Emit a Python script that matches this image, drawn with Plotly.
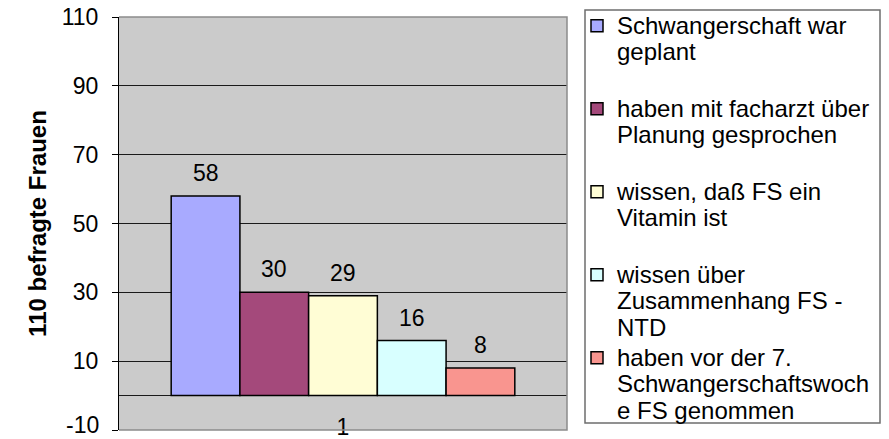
import plotly.graph_objects as go

categories = ["1"]
series_names = [
    "Schwangerschaft war<br>geplant<br> ",
    "haben mit facharzt über<br>Planung gesprochen<br> ",
    "wissen, daß FS ein<br>Vitamin ist<br> ",
    "wissen über<br>Zusammenhang FS -<br>NTD",
    "haben vor der 7.<br>Schwangerschaftswoch<br>e FS genommen",
]
series_values = [58, 30, 29, 16, 8]
series_colors = ["#A8AAFF", "#A4497B", "#FFFDD5", "#D8FFFF", "#F9958F"]
y_ticks = [-10, 10, 30, 50, 70, 90, 110]
y_title = "110 befragte Frauen"

FONT = "Liberation Sans, Arial, sans-serif"
BARGAP = 0.233

fig = go.Figure()
for name, val, col in zip(series_names, series_values, series_colors):
    fig.add_trace(go.Bar(
        x=categories, y=[val], name=f"<span style='font-size:24px'>{name}</span>",
        marker=dict(color=col, line=dict(color="black", width=1.5)),
        hoverinfo="y",
    ))

# data labels above bars (positions derived from group layout)
n = len(series_values)
w = 1 - BARGAP
for i, val in enumerate(series_values):
    fig.add_annotation(
        x=-w / 2 + (i + 0.5) * w / n, y=val, xref="x", yref="y",
        text=str(val), showarrow=False, yshift=23, yanchor="middle",
        font=dict(family=FONT, size=23, color="black"),
    )

# lowest tick label nudged up so it stays inside the picture (as in the reference)
fig.add_annotation(
    x=0, xref="paper", y=y_ticks[0], yref="y", text=str(y_ticks[0]),
    showarrow=False, xanchor="right", yanchor="middle", xshift=-18, yshift=5,
    font=dict(family=FONT, size=23, color="black"),
)

# plot-area border (top/right/bottom)
fig.add_shape(type="path", xref="paper", yref="paper",
              path="M 0,1 L 1,1 L 1,0 L 0,0", line=dict(color="#8C8C8C", width=1.5),
              layer="above")

PW, PH, L, T = 448, 413, 119, 17

fig.update_layout(
    width=889, height=439,
    margin=dict(l=L, r=889 - L - PW, t=T, b=439 - T - PH, autoexpand=False),
    paper_bgcolor="white",
    plot_bgcolor="#CBCBCB",
    barmode="group",
    bargap=BARGAP,
    bargroupgap=0,
    font=dict(family=FONT, size=22, color="black"),
    showlegend=True,
    legend=dict(
        x=(577 - L) / PW, xanchor="left",
        y=(T + PH - 6) / PH, yanchor="top",
        bgcolor="rgba(0,0,0,0)", borderwidth=0,
        valign="top", traceorder="normal", maxheight=436,
        font=dict(family=FONT, size=20.5, color="black"),
    ),
    xaxis=dict(
        type="category", showgrid=False, showline=False, zeroline=False,
        ticks="", ticklabelstandoff=-19, automargin=False,
        tickfont=dict(family=FONT, size=23, color="black"),
    ),
    yaxis=dict(
        range=[-10, 110], tickvals=y_ticks,
        ticktext=["" if t == y_ticks[0] else str(t) for t in y_ticks],
        showgrid=True, gridcolor="#1A1A1A", gridwidth=1,
        zeroline=True, zerolinecolor="#1A1A1A", zerolinewidth=1,
        showline=True, linecolor="black", linewidth=1,
        ticks="outside", ticklen=6, tickcolor="black",
        ticklabelstandoff=9, automargin=False,
        tickfont=dict(family=FONT, size=23, color="black"),
        title=dict(text=f"<b>{y_title}</b>", standoff=8,
                   font=dict(family=FONT, size=24, color="black")),
    ),
)

# legend border box
fig.add_shape(type="rect", xref="paper", yref="paper",
              x0=(585 - L) / PW, x1=(880 - L) / PW,
              y0=(T + PH - 423) / PH, y1=(T + PH - 10) / PH,
              line=dict(color="#6E6E6E", width=1.5), fillcolor="rgba(0,0,0,0)")

fig.write_html("out.html", config={"displayModeBar": False},
               post_script="document.body.style.margin='0';")
